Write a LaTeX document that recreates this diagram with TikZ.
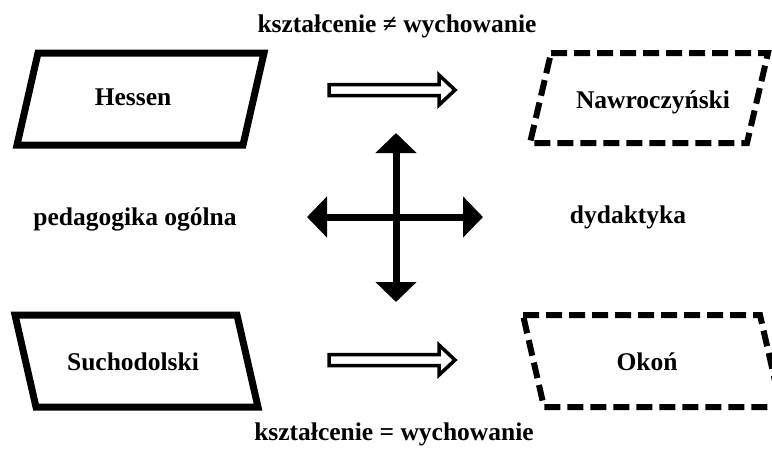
\documentclass[tikz,border=0pt]{standalone}
\usepackage{fontspec}
\setmainfont{Liberation Serif}
\usetikzlibrary{arrows.meta}
\tikzset{
  lbl/.style={font=\fontsize{25.5}{30}\selectfont\bfseries, inner sep=0pt, anchor=base},
  solidbox/.style={draw=black, line width=7pt, line join=miter},
  dashbox/.style={draw=black, line width=6pt, dash pattern=on 16pt off 7pt},
  hollow/.style={draw=black, fill=white, line width=3.5pt, line join=miter},
  cross/.style={line width=7pt, -{Triangle[length=20pt,width=40pt]}}
}
\begin{document}
\begin{tikzpicture}[x=1pt,y=-1pt]
\useasboundingbox (0,0) rectangle (772,448);
% parallelograms
\draw[solidbox] (17,145) -- (38,53) -- (264,53) -- (243,145) -- cycle;
\draw[solidbox] (15,315) -- (237,315) -- (258,407) -- (36,407) -- cycle;
\draw[dashbox] (551,53) -- (768,53) -- (747,143) -- (530,143) -- cycle;
\draw[dashbox] (523,315) -- (760,315) -- (781,407) -- (544,407) -- cycle;
% labels
\node[lbl] (top) at (397,32) {kształcenie ≠ wychowanie};
\node[lbl] (bot) at (394,440) {kształcenie = wychowanie};
\node[lbl] (hessen) at (133,105) {Hessen};
\node[lbl] (nawro) at (653,108) {Nawroczyński};
\node[lbl] (sucho) at (133,370) {Suchodolski};
\node[lbl] (okon) at (647,370) {Okoń};
\node[lbl] (ped) at (135,225) {pedagogika ogólna};
\node[lbl] (dyd) at (628,223) {dydaktyka};
% hollow arrows
\draw[hollow] (329,84.5) -- (439,84.5) -- (439,75) -- (455,90) -- (439,105) -- (439,95.5) -- (329,95.5) -- cycle;
\draw[hollow] (329,354.5) -- (439,354.5) -- (439,345) -- (455,360) -- (439,375) -- (439,365.5) -- (329,365.5) -- cycle;
% cross
\coordinate (c) at (396,217);
\coordinate (cu) at (396,133);
\coordinate (cd) at (396,302);
\coordinate (cl) at (307,217);
\coordinate (cr) at (483,217);
\draw[cross] (c) -- (cu);
\draw[cross] (c) -- (cd);
\draw[cross] (c) -- (cl);
\draw[cross] (c) -- (cr);
\end{tikzpicture}
\end{document}
